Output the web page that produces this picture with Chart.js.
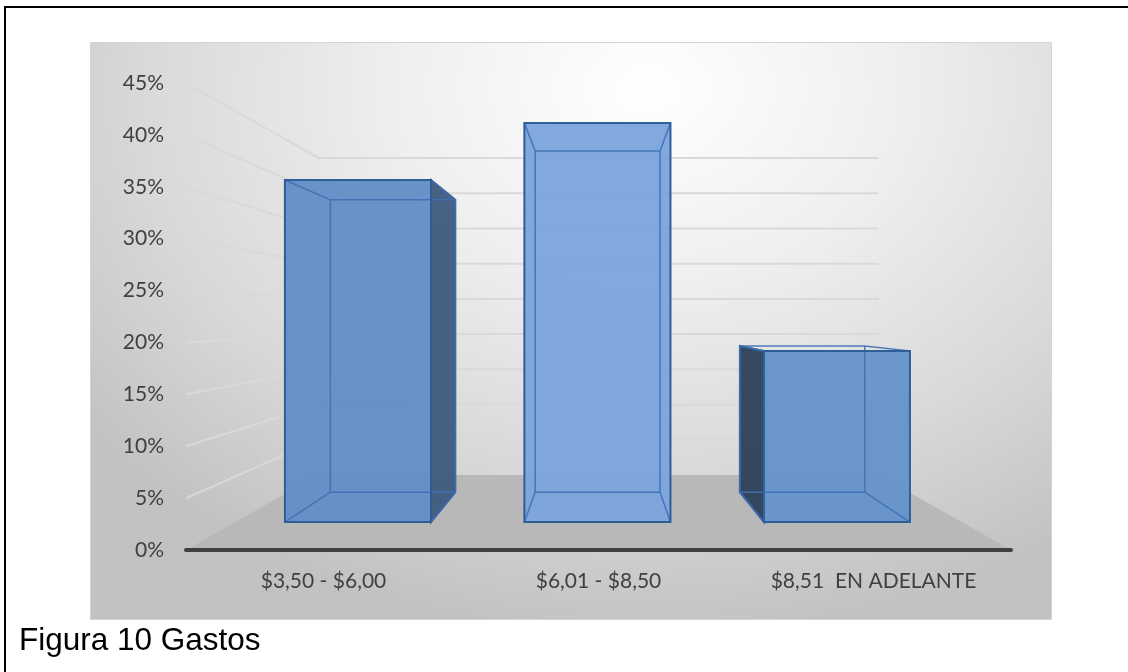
<!DOCTYPE html>
<html>
<head>
<meta charset="utf-8">
<script src="https://cdn.jsdelivr.net/npm/chart.js@4.4.1/dist/chart.umd.min.js"></script>
<style>
    html, body { margin: 0; padding: 0; background: #fff; }
    body { width: 1128px; height: 672px; position: relative; overflow: hidden; }
    #frame {
        position: absolute; left: 4px; top: 6px; width: 1140px; height: 700px;
        border-left: 2px solid #000; border-top: 2px solid #000;
    }
    #plot {
        position: absolute; left: 90px; top: 42px; width: 962px; height: 578px;
        box-sizing: border-box; border: 1px solid #d4d4d4;
        background: radial-gradient(ellipse 75% 95% at 58% 8%, #ffffff 0%, #efefef 35%, #d9d9d9 70%, #c2c2c2 100%);
    }
    #plot canvas { position: absolute; left: 0; top: 0; }
    #caption {
        position: absolute; left: 19px; top: 619px;
        font-family: "Liberation Sans", Arial, sans-serif; font-size: 31.5px; color: #000;
        line-height: 40px; white-space: nowrap;
    }
</style>
</head>
<body>
<div id="frame"></div>
<div id="plot"><canvas id="gastosChart" width="962" height="578"></canvas></div>
<div id="caption">Figura 10 Gastos</div>

<script>
const categories = ['$3,50 - $6,00', '$6,01 - $8,50', '$8,51  EN ADELANTE'];
const shares = [0.375, 0.4375, 0.1875];
const tickMax = 0.45;
const tickStep = 0.05;

const frontColors = ['rgba(98, 142, 198, 0.95)', 'rgba(122, 164, 219, 0.95)', 'rgba(101, 146, 203, 0.95)'];

// depth factors of the fake perspective (towards the middle of the plot)
const wallDepth = 0.679;
const barDepth = 0.855;

function project(area, px, py, k) {
    const vx = (area.left + area.right) / 2;
    const vy = (area.top + area.bottom) / 2;
    return [vx + k * (px - vx), vy + k * (py - vy)];
}

const perspective = {
    id: 'perspective',
    beforeDatasetsDraw(chart) {
        const ctx = chart.ctx;
        const area = chart.chartArea;
        const yScale = chart.scales.y;

        ctx.save();
        // walls gridlines
        ctx.strokeStyle = '#d9d9d9';
        ctx.lineWidth = 2;
        yScale.ticks.forEach(t => {
            if (t.value <= 0) return;
            const yf = yScale.getPixelForValue(t.value);
            const bl = project(area, area.left, yf, wallDepth);
            const br = project(area, area.right, yf, wallDepth);
            ctx.beginPath();
            ctx.moveTo(area.left, yf);
            ctx.lineTo(bl[0], bl[1]);
            ctx.lineTo(br[0], br[1]);
            ctx.stroke();
        });

        // floor
        const fl = project(area, area.left, area.bottom, wallDepth);
        const fr = project(area, area.right, area.bottom, wallDepth);
        ctx.fillStyle = '#b8b8b8';
        ctx.beginPath();
        ctx.moveTo(area.left, area.bottom);
        ctx.lineTo(area.right, area.bottom);
        ctx.lineTo(fr[0], fr[1]);
        ctx.lineTo(fl[0], fl[1]);
        ctx.closePath();
        ctx.fill();

        // axis line
        ctx.strokeStyle = '#404040';
        ctx.lineWidth = 4;
        ctx.lineCap = 'round';
        ctx.beginPath();
        ctx.moveTo(area.left, area.bottom);
        ctx.lineTo(area.right, area.bottom);
        ctx.stroke();

        // side faces of the boxes
        const vx = (area.left + area.right) / 2;
        chart.getDatasetMeta(0).data.forEach(bar => {
            const x1 = bar.x - bar.width / 2, x2 = bar.x + bar.width / 2;
            const a = project(area, x1, bar.y, barDepth), b = project(area, x2, bar.y, barDepth);
            const c = project(area, x2, bar.base, barDepth), d = project(area, x1, bar.base, barDepth);
            let poly = null;
            if (x2 < vx) {
                poly = [[x2, bar.y], b, c, [x2, bar.base]];
                ctx.fillStyle = 'rgba(62, 90, 128, 0.95)';
            } else if (x1 > vx) {
                poly = [[x1, bar.y], a, d, [x1, bar.base]];
                ctx.fillStyle = 'rgba(45, 64, 90, 0.95)';
            }
            if (poly) {
                ctx.beginPath();
                ctx.moveTo(poly[0][0], poly[0][1]);
                poly.slice(1).forEach(p => ctx.lineTo(p[0], p[1]));
                ctx.closePath();
                ctx.fill();
                ctx.strokeStyle = '#2f5a8f';
                ctx.lineWidth = 2;
                ctx.lineCap = 'butt';
                ctx.stroke();
            }
        });
        ctx.restore();
    },
    afterDatasetsDraw(chart) {
        const ctx = chart.ctx;
        const area = chart.chartArea;
        ctx.save();
        chart.getDatasetMeta(0).data.forEach(bar => {
            const x1 = bar.x - bar.width / 2, x2 = bar.x + bar.width / 2;
            const front = [[x1, bar.y], [x2, bar.y], [x2, bar.base], [x1, bar.base]];
            const back = front.map(p => project(area, p[0], p[1], barDepth));
            // edges seen through the glass
            ctx.strokeStyle = 'rgba(62, 112, 180, 0.9)';
            ctx.lineWidth = 1.5;
            ctx.beginPath();
            ctx.moveTo(back[0][0], back[0][1]);
            back.slice(1).forEach(p => ctx.lineTo(p[0], p[1]));
            ctx.closePath();
            front.forEach((p, i) => {
                ctx.moveTo(p[0], p[1]);
                ctx.lineTo(back[i][0], back[i][1]);
            });
            ctx.stroke();
            // front outline
            ctx.strokeStyle = '#2f5d96';
            ctx.lineWidth = 2;
            ctx.strokeRect(x1, bar.y, x2 - x1, bar.base - bar.y);
        });
        ctx.restore();
    }
};

Chart.defaults.font.family = 'Lato';
Chart.defaults.font.size = 21;
Chart.defaults.color = '#404040';

const ctx = document.getElementById('gastosChart').getContext('2d');
const chart = new Chart(ctx, {
    type: 'bar',
    data: {
        labels: categories,
        datasets: [{
            label: 'Gastos',
            data: shares.map((v, i) => ({ x: i, y: v })),
            xAxisID: 'x2',
            yAxisID: 'y2',
            backgroundColor: frontColors,
            borderWidth: 0,
            barPercentage: 0.61,
            categoryPercentage: 1
        }]
    },
    options: {
        responsive: false,
        animation: false,
        layout: { padding: { left: 0, right: 42, top: 40, bottom: 0 } },
        plugins: {
            legend: { display: false },
            tooltip: { enabled: false }
        },
        scales: {
            x: {
                type: 'category',
                grid: { display: false, drawTicks: false },
                border: { display: false },
                ticks: { padding: 19, maxRotation: 0, autoSkip: false },
                afterFit: scale => { scale.height = 71; }
            },
            y: {
                type: 'linear',
                min: 0,
                max: tickMax,
                grid: { display: false, drawTicks: false },
                border: { display: false },
                ticks: {
                    stepSize: tickStep,
                    padding: 22,
                    callback: v => Math.round(v * 100) + '%'
                },
                afterFit: scale => { scale.width = 95; }
            },
            x2: {
                type: 'linear', display: false, offset: false, min: -0.718, max: 2.727,
                grid: { offset: false },
                ticks: { stepSize: 1, includeBounds: false }
            },
            y2: { type: 'linear', display: false, min: -0.0307, max: 0.4814 }
        }
    },
    plugins: [perspective]
});
</script>
</body>
</html>
